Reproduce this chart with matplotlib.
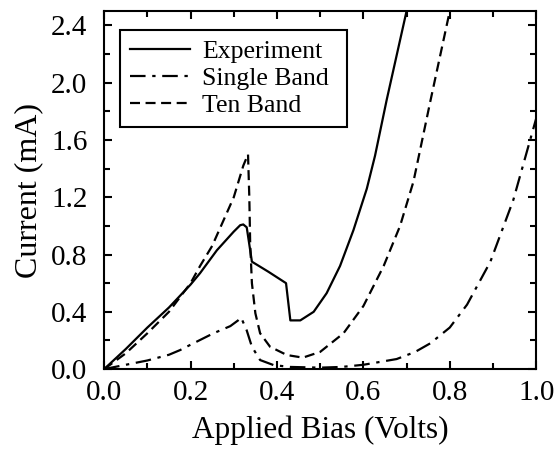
import matplotlib
matplotlib.use("Agg")
import matplotlib.pyplot as plt
from matplotlib.ticker import MultipleLocator

plt.rcParams['font.family'] = ['Liberation Serif', 'DejaVu Serif']

# Experiment (solid)
x_exp = [0.0, 0.05, 0.10, 0.15, 0.20, 0.222, 0.261, 0.30, 0.315, 0.322, 0.330,
         0.338, 0.342, 0.38, 0.421, 0.431, 0.454, 0.485, 0.515, 0.546, 0.577,
         0.608, 0.627, 0.654, 0.70]
y_exp = [0.0, 0.14, 0.29, 0.43, 0.59, 0.67, 0.83, 0.96, 1.005, 1.01, 0.99,
         0.83, 0.75, 0.68, 0.60, 0.34, 0.34, 0.40, 0.53, 0.72, 0.97,
         1.26, 1.49, 1.88, 2.5]

# Single Band (dash-dot)
x_single = [0.0, 0.05, 0.10, 0.15, 0.176, 0.20, 0.253, 0.292, 0.310, 0.317,
            0.330, 0.342, 0.361, 0.392, 0.43, 0.50, 0.55, 0.60, 0.677, 0.72,
            0.755, 0.80, 0.84, 0.894, 0.947, 1.0]
y_single = [0.0, 0.03, 0.06, 0.10, 0.133, 0.17, 0.25, 0.30, 0.34, 0.36,
            0.27, 0.156, 0.063, 0.028, 0.015, 0.01, 0.015, 0.03, 0.07, 0.12,
            0.18, 0.29, 0.45, 0.75, 1.18, 1.75]

# Ten Band (dashed)
x_ten = [0.0, 0.05, 0.10, 0.15, 0.20, 0.222, 0.25, 0.30, 0.322, 0.333, 0.336,
         0.338, 0.342, 0.35, 0.361, 0.384, 0.423, 0.46, 0.50, 0.554, 0.60,
         0.647, 0.685, 0.716, 0.755, 0.80]
y_ten = [0.0, 0.11, 0.25, 0.40, 0.60, 0.72, 0.86, 1.20, 1.42, 1.50, 1.20,
         0.88, 0.60, 0.39, 0.25, 0.156, 0.098, 0.08, 0.12, 0.25, 0.44,
         0.72, 1.0, 1.31, 1.87, 2.5]

fig = plt.figure(figsize=(5.57, 4.49), dpi=100)
ax = fig.add_axes([0.187, 0.178, 0.7756, 0.7973])

ax.plot(x_exp, y_exp, color='black', lw=1.6, linestyle='-', label='Experiment')
ax.plot(x_single, y_single, color='black', lw=1.6, dashes=(7, 3, 1.5, 3), label='Single Band')
ax.plot(x_ten, y_ten, color='black', lw=1.6, dashes=(4.5, 2.5), label='Ten Band')

ax.set_xlim(0, 1.0)
ax.set_ylim(0, 2.5)
ax.xaxis.set_major_locator(MultipleLocator(0.2))
ax.xaxis.set_minor_locator(MultipleLocator(0.1))
ax.yaxis.set_major_locator(MultipleLocator(0.4))
ax.yaxis.set_minor_locator(MultipleLocator(0.2))
ax.xaxis.set_major_formatter(matplotlib.ticker.FormatStrFormatter('%.1f'))
ax.yaxis.set_major_formatter(matplotlib.ticker.FormatStrFormatter('%.1f'))
ax.tick_params(which='both', direction='in', top=True, right=True, width=1.5, labelsize=21)
ax.tick_params(which='major', length=6)
ax.tick_params(which='minor', length=4)
ax.tick_params(axis='x', which='major', pad=8)
ax.tick_params(axis='y', which='major', pad=12)
for s in ax.spines.values():
    s.set_linewidth(1.5)

ax.set_xlabel("Applied Bias (Volts)", fontsize=22.5, labelpad=7)
ax.set_ylabel("Current (mA)", fontsize=23, labelpad=6)

leg = ax.legend(loc='upper left', bbox_to_anchor=(0.037, 0.5, 0.525, 0.447), mode='expand',
                borderaxespad=0, fancybox=False, edgecolor='black', framealpha=1, fontsize=18.5,
                handlelength=2.3, handletextpad=0.5, labelspacing=0.15, borderpad=0.4)
leg.get_frame().set_linewidth(1.5)

plt.savefig("out.png", dpi=100)
